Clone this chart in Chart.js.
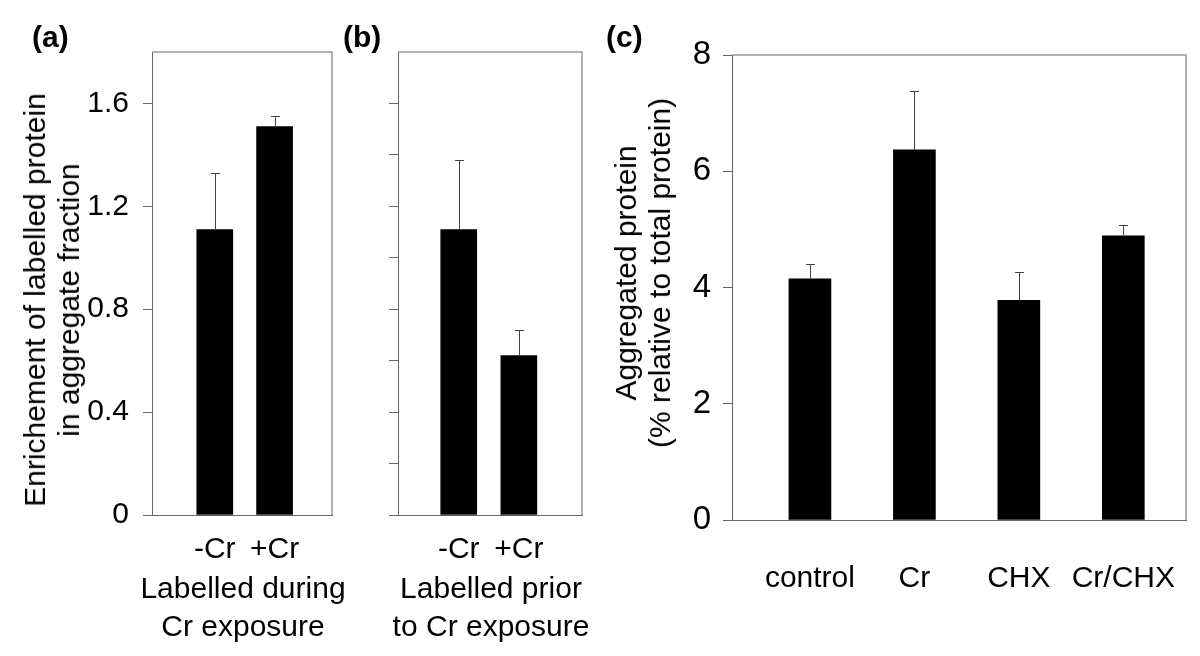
<!DOCTYPE html>
<html>
<head>
<meta charset="utf-8">
<script src="https://cdn.jsdelivr.net/npm/chart.js@4.4.1/dist/chart.umd.min.js"></script>
<style>
  html, body { margin: 0; padding: 0; background: #fff; }
  #fig { position: relative; width: 1200px; height: 656px; overflow: hidden; font-family: 'Liberation Sans', Arial, Helvetica, sans-serif; color: #000; }
  .panel { position: absolute; top: 0; }
  .tag { position: absolute; top: 20px; font-weight: bold; font-size: 30px; line-height: 34px; }
  .xtitle { position: absolute; top: 569px; transform: translateX(-50%); font-size: 30px; line-height: 38px; white-space: nowrap; text-align: center; }
  .ytitle { position: absolute; transform: translate(-50%, -50%) rotate(-90deg); font-size: 30px; line-height: 34px; white-space: nowrap; text-align: center; }
</style>
</head>
<body>
<div id="fig">
  <canvas id="chartA" class="panel" width="370" height="656" style="left:0px"></canvas>
  <canvas id="chartB" class="panel" width="230" height="656" style="left:370px"></canvas>
  <canvas id="chartC" class="panel" width="600" height="656" style="left:600px"></canvas>
  <div class="tag" style="left:32px">(a)</div>
  <div class="tag" style="left:343px">(b)</div>
  <div class="tag" style="left:606px">(c)</div>
  <div class="ytitle" style="left:52px; top:300px">Enrichement of labelled protein<br>in aggregate fraction</div>
  <div class="ytitle" style="left:643px; top:273px">Aggregated protein<br>(% relative to total protein)</div>
  <div class="xtitle" style="left:243px">Labelled during<br>Cr exposure</div>
  <div class="xtitle" style="left:491px">Labelled prior<br>to Cr exposure</div>
</div>
<script>
// data
const labelsA = ['-Cr', '+Cr'];
const valuesA = [1.11, 1.51];
const errorsA = [0.22, 0.04];
const ticksA = [0, 0.4, 0.8, 1.2, 1.6];

const labelsB = ['-Cr', '+Cr'];
const valuesB = [1.11, 0.62];
const errorsB = [0.27, 0.10];
const ticksB = [0, 0.2, 0.4, 0.6, 0.8, 1.0, 1.2, 1.4, 1.6];

const labelsC = ['control', 'Cr', 'CHX', 'Cr/CHX'];
const valuesC = [4.15, 6.37, 3.78, 4.89];
const errorsC = [0.26, 1.01, 0.48, 0.19];
const ticksC = [0, 2, 4, 6, 8];

Chart.defaults.font.family = "'Liberation Sans', Arial, Helvetica, sans-serif";
Chart.defaults.color = '#000';

// error bars (upper half only) + top/right frame of the plot box
const errorBarsPlugin = {
    id: 'errorBars',
    afterDatasetsDraw(chart, args, opts) {
        const { ctx, chartArea, scales } = chart;
        const ds = chart.data.datasets[0];
        ctx.save();
        ctx.strokeStyle = '#444';
        ctx.lineWidth = 1;
        ds.data.forEach((d, i) => {
            const x = Math.round(scales.x.getPixelForValue(d.x)) + 0.5;
            const y0 = scales.y.getPixelForValue(d.y);
            const y1 = Math.round(scales.y.getPixelForValue(d.y + opts.errors[i])) + 0.5;
            ctx.beginPath();
            ctx.moveTo(x, y0);
            ctx.lineTo(x, y1);
            ctx.moveTo(x - 4.5, y1);
            ctx.lineTo(x + 4.5, y1);
            ctx.stroke();
        });
        ctx.strokeStyle = '#999';
        ctx.lineWidth = 1.5;
        ctx.beginPath();
        ctx.moveTo(chartArea.left, chartArea.top);
        ctx.lineTo(chartArea.right, chartArea.top);
        ctx.lineTo(chartArea.right, chartArea.bottom);
        ctx.stroke();
        ctx.restore();
    }
};

function makePanel(id, p) {
    const points = p.values.map((v, i) => ({ x: i + 1, y: v }));
    new Chart(document.getElementById(id), {
        type: 'bar',
        data: {
            datasets: [{
                data: points,
                backgroundColor: '#000',
                borderWidth: 0,
                barThickness: p.barWidth
            }]
        },
        plugins: [errorBarsPlugin],
        options: {
            responsive: false,
            animation: false,
            events: [],
            layout: { padding: { top: p.top, right: p.right, left: 0, bottom: 0 } },
            plugins: {
                legend: { display: false },
                tooltip: { enabled: false },
                errorBars: { errors: p.errors }
            },
            scales: {
                x: {
                    type: 'linear',
                    offset: false,
                    min: p.xMin,
                    max: p.xMax,
                    afterBuildTicks: (s) => {
                        s.ticks = [{ value: p.xMin }].concat(p.labels.map((l, i) => ({ value: i + 1 })));
                    },
                    afterFit: (s) => {
                        s.height = p.xHeight;
                        s.paddingLeft = 0;
                        s.paddingRight = 0;
                    },
                    ticks: {
                        autoSkip: false,
                        maxRotation: 0,
                        padding: p.xPad,
                        font: { size: 30 },
                        callback: (v) => (v === p.xMin ? '' : p.labels[Math.round(v) - 1])
                    },
                    grid: {
                        drawOnChartArea: false,
                        drawTicks: true,
                        tickLength: p.xTick,
                        color: (c) => (p.cornerTick && c.tick && c.tick.value === p.xMin ? '#666' : 'rgba(0,0,0,0)')
                    },
                    border: { color: '#666', width: 1 }
                },
                y: {
                    min: 0,
                    max: p.yMax,
                    afterBuildTicks: (s) => { s.ticks = p.yTicks.map(v => ({ value: v })); },
                    afterFit: (s) => {
                        s.width = p.yWidth;
                        s.paddingTop = 0;
                        s.paddingBottom = 0;
                    },
                    ticks: {
                        padding: p.yPad,
                        font: { size: p.yFont },
                        callback: (v) => (p.yLabels ? p.yLabels(v) : '')
                    },
                    grid: {
                        drawOnChartArea: false,
                        drawTicks: true,
                        tickLength: 9,
                        color: '#666'
                    },
                    border: { color: '#666', width: 1 }
                }
            }
        }
    });
}

// (a) labelled during Cr exposure
makePanel('chartA', {
    labels: labelsA, values: valuesA, errors: errorsA,
    yTicks: ticksA, yMax: 1.8,
    yLabels: (v) => (v === 0 ? '0' : v.toFixed(1)),
    xMin: -0.05, xMax: 2.96,
    barWidth: 36,
    top: 52, right: 38, yWidth: 152, xHeight: 141,
    xPad: 9, xTick: 8, cornerTick: true, yPad: 14, yFont: 30
});

// (b) labelled prior to Cr exposure
makePanel('chartB', {
    labels: labelsB, values: valuesB, errors: errorsB,
    yTicks: ticksB, yMax: 1.8,
    yLabels: null,
    xMin: -0.01, xMax: 3.05,
    barWidth: 36,
    top: 52, right: 18, yWidth: 28, xHeight: 141,
    xPad: 9, xTick: 8, cornerTick: false, yPad: 0, yFont: 30
});

// (c) aggregated protein
makePanel('chartC', {
    labels: labelsC, values: valuesC, errors: errorsC,
    yTicks: ticksC, yMax: 8,
    yLabels: (v) => String(v),
    xMin: 0.254, xMax: 4.6,
    barWidth: 42,
    top: 55, right: 14, yWidth: 132, xHeight: 136,
    xPad: 31, xTick: 10, cornerTick: true, yPad: 12, yFont: 33
});
</script>
</body>
</html>
